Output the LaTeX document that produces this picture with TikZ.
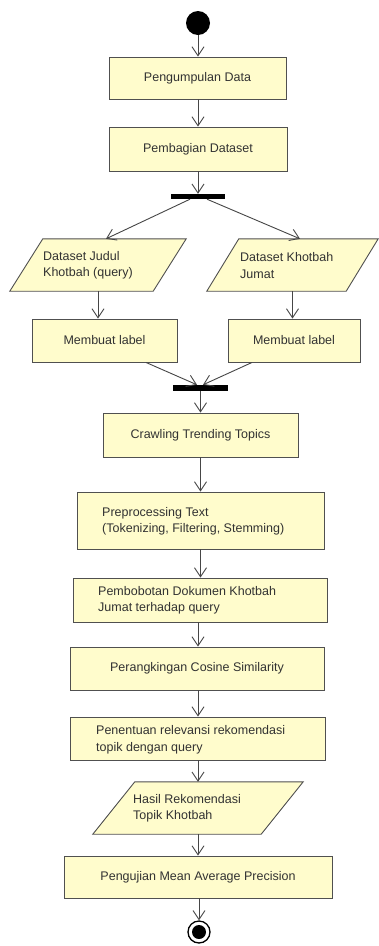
\documentclass[tikz,border=0pt]{standalone}
\usepackage{fontspec}
\setmainfont{Liberation Sans}
\usetikzlibrary{arrows.meta,calc}
\definecolor{boxfill}{RGB}{255,252,204}
\definecolor{boxline}{RGB}{80,80,80}
\definecolor{conn}{RGB}{70,70,70}
\definecolor{txt}{RGB}{50,50,50}
\tikzset{
  actbox/.style={draw=boxline,fill=boxfill,line width=0.9pt,rectangle,inner sep=0pt,
    font=\fontsize{12.5}{16.5}\selectfont,text=txt,align=center},
  inout/.style={rectangle,inner sep=0pt},
  bartext/.style={anchor=west,inner sep=0pt,font=\fontsize{12.5}{16.5}\selectfont,text=txt,align=left},
  syncbar/.style={fill=black,draw=none,rectangle,inner sep=0pt},
  arr/.style={draw=conn,line width=0.9pt,-{Straight Barb[length=9pt,width=12pt,line width=0.9pt]}},
}
\begin{document}
\begin{tikzpicture}[x=1pt,y=-1pt]
\useasboundingbox (0,0) rectangle (379,946);
\fill[white] (0,0) rectangle (379,946);

% start
\node[circle,fill=black,minimum size=24pt,inner sep=0pt] (start) at (198,23) {};
\node[actbox,minimum width=177pt,minimum height=42pt] (b1) at (197.5,78) {Pengumpulan Data};
\node[actbox,minimum width=178pt,minimum height=44pt] (b2) at (198,149) {Pembagian Dataset};
\node[syncbar,minimum width=54pt,minimum height=5pt] (fork) at (198,196.5) {};

% parallelograms (input/output)
\node[inout,minimum width=176pt,minimum height=52pt] (p1) at (98,265) {};
\node[inout,minimum width=171pt,minimum height=52pt] (p2) at (292.5,265) {};
\filldraw[draw=boxline,fill=boxfill,line width=0.9pt]
  (p1.south west) -- ($(p1.north west)+(33,0)$) -- (p1.north east) -- ($(p1.south east)+(-33,0)$) -- cycle;
\filldraw[draw=boxline,fill=boxfill,line width=0.9pt]
  (p2.south west) -- ($(p2.north west)+(32,0)$) -- (p2.north east) -- ($(p2.south east)+(-32,0)$) -- cycle;
\node[bartext] (t1) at (43,265.5) {Dataset Judul\\Khotbah (query)};
\node[bartext] (t2) at (240,265.5) {Dataset Khotbah\\Jumat};

\node[actbox,minimum width=145pt,minimum height=43pt] (m1) at (104.5,340.5) {Membuat label};
\node[actbox,minimum width=132pt,minimum height=43pt] (m2) at (294,340.5) {Membuat label};
\node[syncbar,minimum width=55pt,minimum height=6pt] (join) at (200.5,388) {};

\node[actbox,minimum width=195pt,minimum height=44pt] (b3) at (200.5,435) {Crawling Trending Topics};
\node[actbox,minimum width=247pt,minimum height=57pt] (b4) at (200.5,520.5) {};
\node[bartext] (t4) at (102,521.5) {Preprocessing Text\\(Tokenizing, Filtering, Stemming)};
\node[actbox,minimum width=254pt,minimum height=44pt] (b5) at (200,600) {};
\node[bartext] (t5) at (98,600.5) {Pembobotan Dokumen Khotbah\\Jumat terhadap query};
\node[actbox,minimum width=254pt,minimum height=43pt] (b6) at (197,668.5) {Perangkingan Cosine Similarity};
\node[actbox,minimum width=255pt,minimum height=43pt] (b7) at (197.5,738.5) {};
\node[bartext] (t7) at (96,740) {Penentuan relevansi rekomendasi\\topik dengan query};

\node[inout,minimum width=210pt,minimum height=52pt] (p3) at (198,808) {};
\filldraw[draw=boxline,fill=boxfill,line width=0.9pt]
  (p3.south west) -- ($(p3.north west)+(42,0)$) -- (p3.north east) -- ($(p3.south east)+(-42,0)$) -- cycle;
\node[bartext] (t3) at (133,808.5) {Hasil Rekomendasi\\Topik Khotbah};

\node[actbox,minimum width=268pt,minimum height=42pt] (b8) at (198,877) {Pengujian Mean Average Precision};

% end
\node[circle,draw=black,line width=1.3pt,fill=white,minimum size=22pt,inner sep=0pt] (stop) at (199,932) {};
\node[circle,fill=black,minimum size=14pt,inner sep=0pt] (stopin) at (stop) {};

% connectors
\draw[arr] (start) -- (start |- b1.north);
\draw[arr] (start |- b1.south) -- (start |- b2.north);
\draw[arr] (start |- b2.south) -- (fork.north);
\draw[arr] ($(fork.south)+(-8,0)$) -- ($(p1.north)+(8,0)$);
\draw[arr] ($(fork.south)+(9,0)$) -- ($(p2.north)+(7.5,0)$);
\draw[arr] (p1.south) -- (p1.south |- m1.north);
\draw[arr] (p2.south) -- (p2.south |- m2.north);
\draw[arr] ($(m1.south)+(41.5,0)$) -- ($(join.north)+(-3.5,0)$);
\draw[arr] ($(m2.south)+(-42,0)$) -- ($(join.north)+(2.5,0)$);
\draw[arr] (join.south) -- (join.south |- b3.north);
\draw[arr] (b3.south) -- (b3.south |- b4.north);
\draw[arr] (b4.south) -- (b4.south |- b5.north);
\draw[arr] ($(b5.south)+(-2,0)$) -- ($(b5.south |- b6.north)+(-2,0)$);
\draw[arr] ($(b6.south)+(1,0)$) -- ($(b6.south |- b7.north)+(1,0)$);
\draw[arr] (b7.south -| p3.north) -- (p3.north);
\draw[arr] (p3.south) -- (b8.north);
\draw[arr] (b8.south -| stop.north) -- (stop.north);
\end{tikzpicture}
\end{document}
